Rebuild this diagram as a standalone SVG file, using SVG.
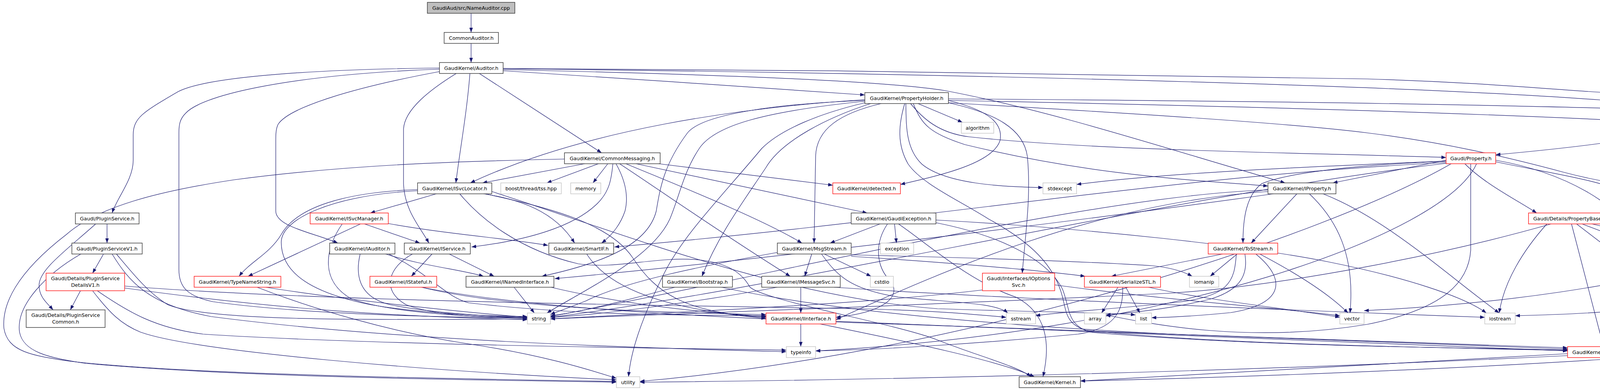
<svg xmlns="http://www.w3.org/2000/svg" width="4731" height="998" viewBox="0 0 4731 998">
<defs>
<marker id="ah" markerWidth="12" markerHeight="9" refX="12" refY="4.5" orient="auto" markerUnits="userSpaceOnUse"><path d="M0,0 L12,4.5 L0,9 z" fill="#191970"/></marker>
<style>
.e path{fill:none;stroke:#191970;stroke-width:1.2;marker-end:url(#ah)}
.k rect{fill:#fff;stroke:#404040;stroke-width:1.5}
.r rect{fill:#fff;stroke:#ff2020;stroke-width:1.5}
.g rect{fill:#fff;stroke:#c8c8c8;stroke-width:1.5}
.root rect{fill:#bfbfbf;stroke:#404040;stroke-width:1.5}
text{font-family:"DejaVu Sans","Liberation Sans",sans-serif;font-size:12.7px;text-anchor:middle;fill:#000}
</style>
</defs>
<rect width="4731" height="998" fill="#fff"/>
<g id="edges" class="e">
<path d="M1206,34 L1206,83"/>
<path d="M1206,111 L1206,160"/>
<path d="M1125,174 C760,178 520,200 455,235 C370,285 341,300 341,345 L341,410 C341,460 300,505 287,545"/>
<path d="M1125,177 C760,190 520,240 475,290 C460,305 458,320 458,340 L458,690 C458,735 480,758 545,772 C800,808 1200,812 1350,814"/>
<path d="M1126,183 C900,225 740,275 712,318 C706,330 706,345 706,360 L706,540 C706,580 800,595 865,622"/>
<path d="M1168,188 C1100,230 1036,280 1033,330 L1033,470 C1036,540 1075,580 1098,622"/>
<path d="M1203,188 C1195,290 1178,380 1167,468"/>
<path d="M1227,188 L1540,391"/>
<path d="M1288,181 C1600,200 1900,222 2214,243"/>
<path d="M1288,178 C1800,190 2250,205 2420,232 C2700,285 3000,385 3290,468"/>
<path d="M1288,175 C2000,178 3000,190 3500,202 C3900,214 4100,244 4200,238 C4350,228 4450,200 4530,205 C4610,212 4630,260 4630,300 L4630,440 C4630,520 4560,585 4450,640 C4200,735 3800,780 3492,795"/>
<path d="M1288,176 C2200,185 3500,212 4100,256 C4450,285 4600,350 4690,460 C4725,520 4725,560 4725,640 L4725,830 C4725,900 4660,945 4605,965"/>
<path d="M2214,255 C1900,275 1500,330 1204,468"/>
<path d="M2214,257 C2000,265 1800,290 1760,340 C1700,420 1690,480 1680,540 C1660,620 1560,670 1387,707"/>
<path d="M2214,259 C1960,285 1830,320 1790,380 C1750,440 1740,500 1715,560 C1670,660 1500,740 1400,801"/>
<path d="M2214,263 C2100,290 2000,330 1950,380 C1850,500 1750,600 1700,700 C1640,820 1615,900 1609,964"/>
<path d="M2229,265 C2120,300 2000,360 1960,430 C1900,520 1840,600 1797,707"/>
<path d="M2256,265 C2150,290 2090,330 2088,400 L2084,622"/>
<path d="M2428,257 C2520,280 2570,310 2560,360 C2540,420 2400,450 2305,472"/>
<path d="M2428,263 C2550,290 2620,330 2630,400 C2640,500 2625,600 2617,699"/>
<path d="M2319,265 C2320,320 2318,380 2360,420 C2420,470 2560,478 2670,480"/>
<path d="M2331,265 C2360,300 2400,340 2480,350 C2800,385 3300,390 3702,403"/>
<path d="M2338,265 C2360,320 2380,340 2470,370 C2800,450 3050,460 3246,476"/>
<path d="M2350,265 L2464,313"/>
<path d="M2428,257 C3000,268 3700,285 4246,313"/>
<path d="M2428,253 C3200,258 4100,270 4450,290 C4510,300 4520,320 4505,360 C4470,450 4400,560 4365,622"/>
<path d="M2428,263 C2900,290 3300,315 3500,340 C3700,365 3850,400 4000,440 C4150,480 4250,482 4350,495 C4480,515 4560,560 4600,620 C4622,660 4622,700 4622,740 L4622,830 C4622,900 4570,935 4480,925 C4350,912 4250,910 4100,920 C3700,945 3200,965 2766,975"/>
<path d="M2316,265 C2300,320 2296,370 2325,420 C2360,470 2450,510 2530,560 C2640,620 2700,680 2720,760 C2730,800 2730,830 2780,845 C3100,880 3600,888 4013,897"/>
<path d="M1445,407 C1200,412 900,420 600,460 C400,490 250,530 170,600 C40,700 5,780 10,840 C20,900 80,910 184,925 C500,960 1200,970 1578,976"/>
<path d="M1497,419 L1235,468"/>
<path d="M1532,419 L1400,468"/>
<path d="M1556,419 L1518,468"/>
<path d="M1569,419 C1565,460 1560,490 1530,520 C1470,580 1350,615 1207,632"/>
<path d="M1577,419 C1600,460 1610,500 1600,540 C1590,570 1570,600 1540,622"/>
<path d="M1586,419 C1650,460 1850,600 2023,707"/>
<path d="M1602,419 C1750,480 1950,560 2053,622"/>
<path d="M1628,419 L2220,545"/>
<path d="M1686,419 L2132,474"/>
<path d="M1069,485 C880,492 760,530 720,600 C690,650 640,670 612,707"/>
<path d="M1069,488 C850,500 720,560 720,620 C720,700 800,750 950,780 C1100,805 1250,808 1350,810"/>
<path d="M1117,496 L948,545"/>
<path d="M1238,496 C1330,510 1420,540 1471,622"/>
<path d="M1242,496 C1400,530 1560,570 1620,660 C1680,750 1750,800 1961,812"/>
<path d="M1177,496 C1230,560 1330,640 1480,675 C1580,690 1680,655 1790,665 C1880,675 1905,710 1920,735 C1960,770 2300,830 2400,870 C2500,910 2600,935 2640,964"/>
<path d="M1259,490 C1600,600 2000,760 2400,790 C2700,800 2850,800 2907,806"/>
<path d="M923,573 L635,707"/>
<path d="M876,573 C830,640 820,720 900,765 C1000,800 1200,812 1350,812"/>
<path d="M933,573 L1075,622"/>
<path d="M994,572 C1150,600 1300,610 1403,628"/>
<path d="M274,573 L274,622"/>
<path d="M245,573 C170,640 100,690 100,730 C100,760 120,775 136,793"/>
<path d="M265,650 L237,699"/>
<path d="M207,650 C120,700 40,780 50,850 C60,900 120,915 220,930 C600,965 1200,972 1578,978"/>
<path d="M287,650 C330,720 380,780 540,810 C1000,870 1600,890 2013,900"/>
<path d="M298,650 C340,700 380,750 430,780 C530,820 900,820 1350,816"/>
<path d="M206,744 L180,793"/>
<path d="M319,732 C800,770 1600,780 2200,790 C2400,795 2500,805 2576,812"/>
<path d="M319,737 C700,790 1000,810 1350,818"/>
<path d="M237,744 C280,800 310,830 360,850 C500,900 1100,950 1578,972"/>
<path d="M249,744 C330,800 400,840 520,855 C900,880 1600,890 2013,896"/>
<path d="M680,735 C900,770 1200,800 1350,812"/>
<path d="M658,735 C800,790 1000,850 1200,880 C1400,910 1520,950 1578,968"/>
<path d="M922,650 C910,700 915,760 1000,780 C1100,800 1250,810 1350,812"/>
<path d="M987,650 C1080,680 1180,690 1238,707"/>
<path d="M995,650 C1100,700 1140,760 1200,775 C1500,810 1800,806 1961,808"/>
<path d="M1056,650 C1000,680 970,740 1040,780 C1120,810 1250,812 1350,814"/>
<path d="M1106,650 L1053,707"/>
<path d="M1150,650 L1265,707"/>
<path d="M1079,735 C1300,790 1700,800 1961,805"/>
<path d="M1079,735 C1400,800 2000,820 2600,840 C3200,860 3700,880 4013,893"/>
<path d="M1316,735 L1368,801"/>
<path d="M1410,735 C1600,780 1800,800 1961,810"/>
<path d="M1502,650 C1560,740 1700,790 1961,815"/>
<path d="M1990,646 C1800,680 1600,720 1500,770 C1450,790 1420,800 1409,805"/>
<path d="M2078,650 L2060,707"/>
<path d="M2110,650 L2230,707"/>
<path d="M2179,652 C2500,660 2800,670 2950,680 C3000,685 3030,695 3052,707"/>
<path d="M2179,656 C2400,670 2650,690 2778,707"/>
<path d="M2103,650 C2140,700 2170,740 2300,760 C2450,775 2550,775 2580,801"/>
<path d="M2253,573 L2125,622"/>
<path d="M2290,573 L2295,622"/>
<path d="M2272,573 C2240,620 2240,680 2280,720 C2310,760 2260,800 2140,812"/>
<path d="M2396,563 C2800,585 3200,630 3400,670 C3600,710 3750,760 3805,801"/>
<path d="M2300,573 C2370,620 2480,720 2600,760 C2680,800 2690,880 2670,964"/>
<path d="M2396,570 C2550,600 2680,660 2720,740 C2740,790 2730,830 2790,850 C3200,885 3700,890 4013,895"/>
<path d="M1728,735 C1600,770 1480,800 1409,808"/>
<path d="M1847,735 C2100,790 2500,830 3000,855 C3500,875 3800,885 4013,890"/>
<path d="M1990,735 C1800,770 1550,805 1409,812"/>
<path d="M2050,735 L2050,801"/>
<path d="M2135,735 C2500,760 3200,790 3801,812"/>
<path d="M2050,829 L2050,887"/>
<path d="M2099,829 C2300,870 2550,920 2648,964"/>
<path d="M2140,822 C2800,850 3600,880 4013,898"/>
<path d="M2515,742 C2200,780 1700,800 1409,816"/>
<path d="M2700,729 C3000,770 3300,790 3430,808"/>
<path d="M2862,735 L2820,801"/>
<path d="M2882,735 L2918,801"/>
<path d="M2940,735 C3100,770 3300,790 3430,812"/>
<path d="M2874,735 C2876,790 2860,840 2760,855 C2500,880 2250,895 2088,898"/>
<path d="M3130,650 L2845,707"/>
<path d="M3167,650 L3098,707"/>
<path d="M3165,650 C3160,720 3150,760 3000,775 C2800,795 2700,800 2651,808"/>
<path d="M3187,650 C3195,700 3180,740 3100,765 C3000,790 2900,800 2831,806"/>
<path d="M3215,650 C3300,720 3280,780 3150,800 C3050,810 2990,812 2948,813"/>
<path d="M3225,650 C3320,700 3400,750 3451,801"/>
<path d="M3320,496 L3203,622"/>
<path d="M3352,496 C3420,560 3470,650 3456,801"/>
<path d="M3387,496 C3550,560 3700,700 3838,801"/>
<path d="M3246,486 C2800,500 2000,700 1409,810"/>
<path d="M3246,490 C2800,520 2400,700 2140,818"/>
<path d="M3260,496 C2800,560 2000,660 1420,713"/>
<path d="M3702,410 C3600,430 3500,450 3412,468"/>
<path d="M3702,412 C3400,425 3000,440 2756,472"/>
<path d="M3702,413 C3500,420 3300,440 3230,470 C3190,500 3182,560 3182,622"/>
<path d="M3702,416 C3000,450 2400,560 1573,632"/>
<path d="M3702,418 C3000,500 2000,740 1409,812"/>
<path d="M3715,419 C3400,600 2500,900 1638,976"/>
<path d="M3750,419 C3800,470 3880,510 3934,545"/>
<path d="M3829,414 C3950,440 4100,460 4180,500 C4260,540 4300,580 4330,622"/>
<path d="M3829,410 C4000,440 4150,520 4196,622"/>
<path d="M3765,419 L3765,640 C3760,720 3700,790 3500,830 C3200,880 2950,830 2831,806"/>
<path d="M3780,419 C3700,600 3000,850 2088,898"/>
<path d="M4270,341 C4100,370 3950,385 3829,396"/>
<path d="M4403,341 C4530,380 4640,460 4672,560 C4680,650 4680,730 4620,800 C4500,860 4300,880 4204,887"/>
<path d="M4393,341 C4450,370 4520,450 4540,540 C4550,620 4500,720 4400,760 C4200,800 4000,805 3879,808"/>
<path d="M4050,573 L4180,622"/>
<path d="M4075,573 L4290,622"/>
<path d="M3960,573 C3900,640 3850,720 3838,801"/>
<path d="M4023,573 L4105,887"/>
<path d="M4036,573 L4548,965"/>
<path d="M3971,573 C3700,650 3300,730 3000,750 C2400,780 1800,800 1409,816"/>
<path d="M4180,915 L4530,975"/>
<path d="M4013,905 C3500,930 3000,960 2766,975"/>
<path d="M4013,910 C3000,960 2000,975 1638,978"/>
</g>
<g id="n0" class="root"><rect x="1094" y="6" width="224" height="28"/><text x="1206" y="24.5">GaudiAud/src/NameAuditor.cpp</text></g>
<g id="n1" class="k"><rect x="1137" y="83" width="139" height="28"/><text x="1206.5" y="101.5">CommonAuditor.h</text></g>
<g id="n2" class="k"><rect x="1125" y="160" width="163" height="28"/><text x="1206.5" y="178.5">GaudiKernel/Auditor.h</text></g>
<g id="n3" class="k"><rect x="2214" y="237" width="214" height="28"/><text x="2321" y="255.5">GaudiKernel/PropertyHolder.h</text></g>
<g id="n4" class="k"><rect x="1445" y="391" width="245" height="28"/><text x="1567.5" y="409.5">GaudiKernel/CommonMessaging.h</text></g>
<g id="n5" class="k"><rect x="1069" y="468" width="190" height="28"/><text x="1164" y="486.5">GaudiKernel/ISvcLocator.h</text></g>
<g id="n6" class="g"><rect x="1282" y="468" width="155" height="28"/><text x="1359.5" y="486.5">boost/thread/tss.hpp</text></g>
<g id="n7" class="g"><rect x="1461" y="468" width="77" height="28"/><text x="1499.5" y="486.5">memory</text></g>
<g id="n8" class="r"><rect x="2132" y="468" width="173" height="28"/><text x="2218.5" y="486.5">GaudiKernel/detected.h</text></g>
<g id="n9" class="g"><rect x="2461" y="313" width="83" height="28"/><text x="2502.5" y="331.5">algorithm</text></g>
<g id="n10" class="g"><rect x="2670" y="468" width="86" height="28"/><text x="2713" y="486.5">stdexcept</text></g>
<g id="n11" class="k"><rect x="3246" y="468" width="174" height="28"/><text x="3333" y="486.5">GaudiKernel/IProperty.h</text></g>
<g id="n12" class="k"><rect x="4246" y="313" width="246" height="28"/><text x="4369" y="331.5">GaudiKernel/DataHandleProperty.h</text></g>
<g id="n13" class="r"><rect x="3702" y="391" width="127" height="28"/><text x="3765.5" y="409.5">Gaudi/Property.h</text></g>
<g id="n14" class="k"><rect x="193" y="545" width="163" height="28"/><text x="274.5" y="563.5">Gaudi/PluginService.h</text></g>
<g id="n15" class="k"><rect x="184" y="622" width="180" height="28"/><text x="274" y="640.5">Gaudi/PluginServiceV1.h</text></g>
<g id="n16" class="r"><rect x="118" y="699" width="201" height="45"/><text x="218.5" y="717">Gaudi/Details/PluginService</text><text x="218.5" y="734">DetailsV1.h</text></g>
<g id="n17" class="k"><rect x="67" y="793" width="202" height="45"/><text x="168" y="811">Gaudi/Details/PluginService</text><text x="168" y="828">Common.h</text></g>
<g id="n18" class="r"><rect x="497" y="707" width="222" height="28"/><text x="608" y="725.5">GaudiKernel/TypeNameString.h</text></g>
<g id="n19" class="r"><rect x="794" y="545" width="200" height="28"/><text x="894" y="563.5">GaudiKernel/ISvcManager.h</text></g>
<g id="n20" class="k"><rect x="844" y="622" width="167" height="28"/><text x="927.5" y="640.5">GaudiKernel/IAuditor.h</text></g>
<g id="n21" class="k"><rect x="1035" y="622" width="169" height="28"/><text x="1119.5" y="640.5">GaudiKernel/IService.h</text></g>
<g id="n22" class="r"><rect x="947" y="707" width="171" height="28"/><text x="1032.5" y="725.5">GaudiKernel/IStateful.h</text></g>
<g id="n23" class="k"><rect x="1193" y="707" width="225" height="28"/><text x="1305.5" y="725.5">GaudiKernel/INamedInterface.h</text></g>
<g id="n24" class="k"><rect x="1405" y="622" width="166" height="28"/><text x="1488" y="640.5">GaudiKernel/SmartIF.h</text></g>
<g id="n25" class="k"><rect x="1990" y="622" width="189" height="28"/><text x="2084.5" y="640.5">GaudiKernel/MsgStream.h</text></g>
<g id="n26" class="k"><rect x="2179" y="545" width="217" height="28"/><text x="2287.5" y="563.5">GaudiKernel/GaudiException.h</text></g>
<g id="n27" class="g"><rect x="2254" y="622" width="85" height="28"/><text x="2296.5" y="640.5">exception</text></g>
<g id="n28" class="k"><rect x="1696" y="707" width="179" height="28"/><text x="1785.5" y="725.5">GaudiKernel/Bootstrap.h</text></g>
<g id="n29" class="k"><rect x="1950" y="707" width="201" height="28"/><text x="2050.5" y="725.5">GaudiKernel/IMessageSvc.h</text></g>
<g id="n30" class="g"><rect x="2228" y="707" width="59" height="28"/><text x="2257.5" y="725.5">cstdio</text></g>
<g id="n31" class="g"><rect x="1350" y="801" width="59" height="28"/><text x="1379.5" y="819.5">string</text></g>
<g id="n32" class="r"><rect x="1961" y="801" width="179" height="28"/><text x="2050.5" y="819.5">GaudiKernel/IInterface.h</text></g>
<g id="n33" class="g"><rect x="2013" y="887" width="75" height="28"/><text x="2050.5" y="905.5">typeinfo</text></g>
<g id="n34" class="g"><rect x="1578" y="964" width="60" height="28"/><text x="1608" y="982.5">utility</text></g>
<g id="n35" class="r"><rect x="2515" y="699" width="185" height="45"/><text x="2607.5" y="717">Gaudi/Interfaces/IOptions</text><text x="2607.5" y="734">Svc.h</text></g>
<g id="n36" class="r"><rect x="2776" y="707" width="195" height="28"/><text x="2873.5" y="725.5">GaudiKernel/SerializeSTL.h</text></g>
<g id="n37" class="g"><rect x="3045" y="707" width="75" height="28"/><text x="3082.5" y="725.5">iomanip</text></g>
<g id="n38" class="r"><rect x="3093" y="622" width="178" height="28"/><text x="3182" y="640.5">GaudiKernel/ToStream.h</text></g>
<g id="n39" class="g"><rect x="2576" y="801" width="75" height="28"/><text x="2613.5" y="819.5">sstream</text></g>
<g id="n40" class="g"><rect x="2776" y="801" width="55" height="28"/><text x="2803.5" y="819.5">array</text></g>
<g id="n41" class="g"><rect x="2907" y="801" width="41" height="28"/><text x="2927.5" y="819.5">list</text></g>
<g id="n42" class="g"><rect x="3430" y="801" width="62" height="28"/><text x="3461" y="819.5">vector</text></g>
<g id="n43" class="k"><rect x="2609" y="964" width="157" height="28"/><text x="2687.5" y="982.5">GaudiKernel/Kernel.h</text></g>
<g id="n44" class="r"><rect x="3913" y="545" width="211" height="28"/><text x="4018.5" y="563.5">Gaudi/Details/PropertyBase.h</text></g>
<g id="n45" class="g"><rect x="4157" y="622" width="96" height="28"/><text x="4205" y="640.5">string_view</text></g>
<g id="n46" class="k"><rect x="4277" y="622" width="157" height="28"/><text x="4355.5" y="640.5">Gaudi/PropertyFwd.h</text></g>
<g id="n47" class="g"><rect x="3801" y="801" width="78" height="28"/><text x="3840" y="819.5">iostream</text></g>
<g id="n48" class="r"><rect x="4013" y="887" width="191" height="28"/><text x="4108.5" y="905.5">GaudiKernel/StatusCode.h</text></g>
<g id="n49" class="g"><rect x="4530" y="965" width="86" height="28"/><text x="4573" y="983.5">functional</text></g>
</svg>
